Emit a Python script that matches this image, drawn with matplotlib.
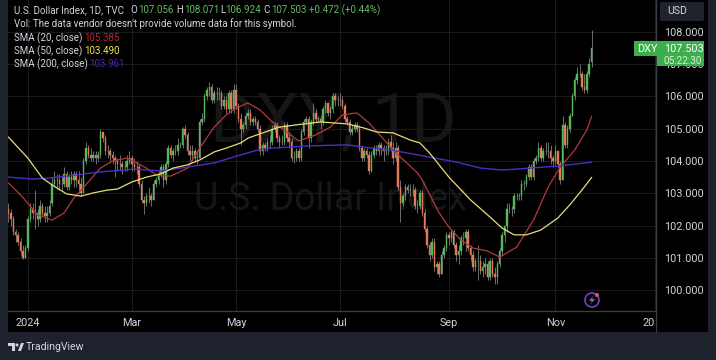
#!/usr/bin/python3
import matplotlib
matplotlib.use("Agg")
import matplotlib.pyplot as plt
from matplotlib.patches import Rectangle, FancyBboxPatch, Circle, Polygon

plt.rcParams['font.family'] = ['Roboto', 'DejaVu Sans']

# daily candles, Dec 2023 to Nov 2024, one row per month
opens = [102.5,102.4,102.2,101.8,101.7,101.5,101.2,101.0,
    101.3,102.2,102.5,102.4,102.4,102.2,102.6,102.4,102.3,102.4,102.7,103.3,103.4,103.4,103.3,103.3,103.6,103.2,103.5,103.4,103.6,103.4,
    103.3,103.0,104.0,104.4,104.2,104.1,104.2,104.1,104.2,104.9,104.7,104.3,104.3,104.2,104.1,104.0,103.9,103.9,103.8,103.8,104.0,
    104.1,103.9,103.8,103.8,103.3,102.8,102.7,102.9,102.9,102.8,103.3,103.4,103.6,103.8,103.4,103.9,104.4,104.2,104.3,104.3,104.5,
    104.5,105.0,104.8,104.3,104.2,104.3,104.1,104.1,105.2,105.3,106.0,106.2,106.3,105.9,106.1,106.1,106.1,105.7,105.9,105.6,106.1,105.6,
    106.2,105.7,105.3,105.0,105.1,105.4,105.5,105.2,105.3,105.2,105.0,104.3,104.5,104.4,104.6,104.6,105.0,105.1,104.7,104.6,104.6,105.1,104.7,
    104.6,104.1,104.1,104.3,104.1,104.9,105.2,105.3,104.7,105.2,105.5,105.3,105.3,105.2,105.6,105.8,105.5,105.6,106.0,105.9,
    105.9,105.9,105.7,105.3,105.2,104.9,105.0,105.1,105.0,104.4,104.1,104.3,104.2,103.7,104.2,104.4,104.3,104.5,104.4,104.3,104.3,104.6,104.4,
    104.1,104.4,103.2,102.7,102.9,103.2,103.1,103.1,103.1,102.6,102.6,103.0,102.4,101.9,101.4,101.1,101.5,100.7,100.8,100.5,101.1,101.3,
    101.7,101.6,101.8,101.4,101.1,101.2,101.6,101.6,101.8,101.3,101.1,100.7,100.9,100.9,100.6,100.7,100.8,100.4,100.9,100.5,100.4,
    100.8,101.2,101.7,102.0,102.5,102.5,102.5,102.9,102.9,102.9,103.3,103.3,103.5,103.8,103.5,104.0,104.1,104.4,104.1,104.3,104.3,104.3,104.1,
    104.0,104.3,103.9,103.4,105.1,104.5,105.0,105.4,106.0,106.5,106.7,106.7,106.3,106.2,106.7,107.056]
highs = [102.7,102.5,102.3,101.9,101.8,101.6,101.4,101.4,
    102.3,102.7,102.7,103.1,102.5,102.8,102.7,102.6,102.6,102.8,103.5,103.7,103.6,103.6,103.5,103.8,103.7,103.6,103.7,103.7,103.7,103.7,
    103.5,104.1,104.6,104.5,104.4,104.3,104.3,104.3,105.0,104.9,104.8,104.5,104.4,104.3,104.2,104.1,104.2,104.0,104.0,104.2,104.3,
    104.2,104.1,104.0,103.9,103.4,102.9,103.0,103.2,103.0,103.4,103.5,103.7,103.9,103.9,104.0,104.5,104.5,104.4,104.5,104.7,104.6,
    105.05,105.1,104.9,104.5,104.5,104.4,104.3,105.3,105.5,106.1,106.3,106.45,106.4,106.2,106.3,106.3,106.2,106.0,106.0,106.2,106.2,106.4,
    106.4,105.8,105.5,105.2,105.5,105.6,105.6,105.4,105.4,105.3,105.1,104.6,104.6,104.7,104.8,105.1,105.2,105.2,104.8,104.8,105.2,105.2,104.9,
    104.7,104.3,104.4,104.4,105.0,105.3,105.4,105.4,105.3,105.8,105.6,105.4,105.4,105.7,105.9,105.8,105.7,106.1,106.1,106.0,
    106.1,106.0,105.8,105.4,105.3,105.1,105.2,105.2,105.1,104.5,104.4,104.4,104.3,104.3,104.5,104.5,104.6,104.6,104.5,104.5,104.7,104.8,104.6,
    104.6,104.5,103.4,103.0,103.3,103.3,103.3,103.3,103.2,102.8,103.1,103.1,102.5,102.0,101.5,101.6,101.6,100.9,100.9,101.2,101.4,101.8,
    101.8,101.9,101.9,101.5,101.4,101.7,101.8,101.9,101.9,101.4,101.2,101.0,101.4,101.1,100.9,101.0,100.9,101.0,101.0,100.7,100.9,
    101.3,101.8,102.0,102.7,102.7,102.6,103.0,103.0,103.0,103.4,103.4,103.6,103.9,103.9,104.1,104.2,104.6,104.5,104.4,104.6,104.6,104.5,104.2,
    104.5,104.3,104.0,105.4,105.2,105.1,105.5,106.1,106.6,106.9,107.0,106.8,106.7,106.8,107.2,108.071]
lows = [102.1,102.0,101.7,101.5,101.4,101.1,100.95,101.0,
    101.2,102.1,102.2,101.9,102.0,102.1,102.3,102.1,102.1,102.3,102.6,103.2,103.1,103.1,103.1,103.2,103.1,103.1,103.3,103.2,103.2,103.0,
    102.9,103.0,103.9,104.1,104.0,104.0,103.9,104.0,104.1,104.6,104.2,104.1,104.0,103.9,103.5,103.7,103.7,103.6,103.7,103.7,103.9,
    103.7,103.7,103.6,103.2,102.7,102.35,102.6,102.7,102.6,102.8,103.2,103.3,103.5,103.2,103.3,103.8,104.1,104.0,104.2,104.2,104.4,
    104.4,104.7,104.2,104.0,104.0,104.0,103.9,104.1,105.1,105.2,105.9,106.0,105.8,105.8,105.9,105.9,105.6,105.6,105.5,105.5,105.5,105.5,
    105.6,105.2,104.5,104.9,105.0,105.3,105.1,105.1,105.1,104.9,104.2,104.2,104.3,104.3,104.4,104.5,104.9,104.6,104.4,104.5,104.5,104.6,104.4,
    104.0,103.95,104.0,104.0,104.0,104.8,105.1,104.4,104.6,105.1,105.2,105.2,105.0,105.1,105.5,105.4,105.3,105.5,105.7,105.7,
    105.7,105.6,105.2,105.1,104.8,104.8,104.9,104.9,104.3,104.0,104.0,104.1,103.6,103.65,104.1,104.2,104.2,104.2,104.0,104.2,104.2,104.3,103.9,
    104.0,103.1,102.1,102.6,102.8,103.0,102.9,102.9,102.5,102.4,102.5,102.3,101.8,101.3,100.9,101.0,100.6,100.5,100.4,100.5,101.0,101.2,
    101.4,101.5,101.3,100.9,100.8,101.1,101.4,101.2,101.2,100.9,100.6,100.6,100.3,100.5,100.4,100.5,100.3,100.3,100.4,100.2,100.2,
    100.7,101.1,101.5,101.8,102.4,102.3,102.4,102.8,102.8,102.8,103.1,103.2,103.4,103.4,103.4,103.9,104.0,104.0,104.0,104.2,104.1,103.9,103.8,
    103.9,103.8,103.3,103.4,104.4,104.4,104.9,105.4,105.9,106.4,106.6,106.2,106.1,106.1,106.6,106.924]
closes = [102.4,102.2,101.8,101.7,101.5,101.2,101.0,101.3,
    102.2,102.5,102.4,102.4,102.2,102.6,102.4,102.3,102.4,102.6,103.3,103.4,103.4,103.3,103.3,103.6,103.2,103.5,103.4,103.6,103.4,103.3,
    103.0,104.0,104.4,104.2,104.1,104.2,104.1,104.2,104.9,104.7,104.3,104.3,104.2,104.1,104.0,103.9,103.9,103.8,103.8,104.0,104.1,
    103.9,103.8,103.8,103.3,102.8,102.7,102.9,102.9,102.8,103.3,103.4,103.6,103.8,103.4,103.9,104.4,104.2,104.3,104.3,104.5,104.5,
    105.0,104.8,104.3,104.2,104.3,104.1,104.1,105.2,105.3,106.0,106.2,106.3,105.9,106.1,106.1,106.1,105.7,105.9,105.6,106.1,105.6,106.2,
    105.7,105.3,105.0,105.1,105.4,105.5,105.2,105.3,105.2,105.0,104.3,104.5,104.4,104.6,104.6,105.0,105.1,104.7,104.6,104.6,105.1,104.7,104.6,
    104.1,104.1,104.3,104.1,104.9,105.2,105.3,104.7,105.2,105.5,105.3,105.3,105.2,105.6,105.8,105.5,105.6,106.0,105.9,105.9,
    105.9,105.7,105.3,105.2,104.9,105.0,105.1,105.0,104.4,104.1,104.3,104.2,103.7,104.2,104.4,104.3,104.5,104.4,104.3,104.3,104.6,104.4,104.1,
    104.4,103.2,102.7,102.9,103.2,103.1,103.1,103.1,102.6,102.6,103.0,102.4,101.9,101.4,101.1,101.5,100.7,100.8,100.5,101.1,101.3,101.7,
    101.6,101.8,101.4,101.1,101.2,101.6,101.6,101.8,101.3,101.1,100.7,100.9,100.9,100.6,100.7,100.8,100.4,100.9,100.5,100.4,100.8,
    101.2,101.7,102.0,102.5,102.5,102.5,102.9,102.9,102.9,103.3,103.3,103.5,103.8,103.5,104.0,104.1,104.4,104.1,104.3,104.3,104.3,104.1,104.0,
    104.3,103.9,103.4,105.1,104.5,105.0,105.4,106.0,106.5,106.7,106.7,106.3,106.2,106.7,107.0,107.503]

# moving averages, bar number then price
sma20_bars = [0,5,12,18,23,27,33,38,43,49,53,57,61,67,74,79,85,90,94,99,104,109,115,120,127,133,138,144,149,156,162,169,171,178,182,187,192,198,203,210,217,223,228,234,239,241]
sma20_vals = [103.32,102.95,102.33,102.17,102.39,102.85,103.35,103.78,104.00,104.09,103.94,103.78,103.57,103.53,103.78,104.40,105.05,105.43,105.64,105.80,105.58,105.21,104.90,104.62,104.81,105.05,105.43,105.49,105.18,104.59,104.12,103.63,103.41,102.39,101.95,101.55,101.30,101.21,101.02,101.33,102.17,103.19,103.81,104.34,104.96,105.385]
sma50_bars = [0,8,14,18,24,30,35,41,45,51,57,63,68,74,79,85,90,96,99,105,112,119,129,140,147,152,159,166,170,174,177,182,191,198,204,209,214,220,227,232,237,241]
sma50_vals = [104.74,104.09,103.47,103.26,102.98,102.91,103.01,103.10,103.13,103.35,103.50,103.60,103.78,103.88,104.03,104.28,104.40,104.56,104.71,104.87,105.05,105.12,105.21,105.15,105.02,104.90,104.87,104.65,104.56,104.25,103.97,103.50,102.79,102.33,101.92,101.71,101.71,101.86,102.23,102.64,103.10,103.49]
sma200_bars = [0,10,17,38,52,63,74,85,96,103,109,125,140,147,158,169,176,185,195,204,216,228,241]
sma200_vals = [103.50,103.44,103.47,103.66,103.75,103.69,103.81,103.94,104.19,104.34,104.40,104.47,104.50,104.43,104.34,104.19,104.09,103.97,103.78,103.72,103.78,103.85,103.961]

month_ticks = [8, 51, 94, 137, 182, 226, 267]
month_labels = ["2024", "Mar", "May", "Jul", "Sep", "Nov", "20"]
price_ticks = [100, 101, 102, 103, 104, 105, 106, 107, 108]

W, H = 716, 360
FRAME = "#1e222d"
TEXT = "#d1d4dc"
GRID = "#1a1a1a"
UP = "#55b85a"
DOWN = "#e37a58"
WICK = "#808080"
BADGE = "#3aaf4c"

fig = plt.figure(figsize=(W / 100, H / 100), dpi=100, facecolor=FRAME)

# black panel behind everything
back = fig.add_axes([0, 0, 1, 1], zorder=0)
back.set_xlim(0, W)
back.set_ylim(H, 0)
back.axis("off")
back.add_patch(Rectangle((8, 0), 700, 332, color="black", lw=0))

# watermark
back.text(333, 123, "DXY, 1D", color="#161616", fontsize=50, ha="center", va="center", zorder=1)
back.text(330, 200, "U.S. Dollar Index", color="#161616", fontsize=27, ha="center", va="center", zorder=1)

# price pane, x is bar number
ax = fig.add_axes([8 / W, (H - 311) / H, 648 / W, 311 / H], zorder=1)
ax.patch.set_alpha(0)
ax.set_xlim(-0.2, 267.6)
ax.set_ylim(99.35, 108.99)

idx = list(range(len(closes)))
ax.vlines(idx, lows, highs, color=WICK, lw=0.6, zorder=2)
colors = [UP if c >= o else DOWN for o, c in zip(opens, closes)]
bottoms = [min(o, c) for o, c in zip(opens, closes)]
heights = [abs(c - o) for o, c in zip(opens, closes)]
ax.bar(idx, heights, 0.62, bottoms, color=colors, edgecolor=colors, lw=0.3, zorder=3)

ax.plot(sma20_bars, sma20_vals, color="#b5383c", lw=0.9, zorder=4)
ax.plot(sma50_bars, sma50_vals, color="#e8dc78", lw=0.9, zorder=5)
ax.plot(sma200_bars, sma200_vals, color="#4a2fc0", lw=1.0, zorder=4)

ax.set_xticks(month_ticks)
ax.set_xticklabels(month_labels)
ax.set_yticks(price_ticks)
ax.set_yticklabels(["%.3f" % p for p in price_ticks])
ax.yaxis.tick_right()
ax.grid(True, color=GRID, lw=0.8, zorder=0)
ax.set_axisbelow(True)
ax.tick_params(axis="both", length=0, labelsize=7.8, labelcolor=TEXT)
ax.tick_params(axis="x", pad=5)
ax.tick_params(axis="y", pad=6)
ax.get_xticklabels()[-1].set_ha("right")
for side in ["top", "left"]:
    ax.spines[side].set_visible(False)
for side in ["right", "bottom"]:
    ax.spines[side].set_color("#3a3d45")
    ax.spines[side].set_linewidth(0.9)

# overlay for the legend, badges and logo, in image pixels
top = fig.add_axes([0, 0, 1, 1], zorder=2)
top.set_xlim(0, W)
top.set_ylim(H, 0)
top.axis("off")
top.patch.set_alpha(0)

top.plot([656, 656], [311, 332], color="#3a3d45", lw=0.9)

FS = 7.0
GREEN = "#62bb62"
head = [(14, "U.S. Dollar Index, 1D, TVC", TEXT), (130, "O", TEXT), (138, "107.056", GREEN),
        (176, "H", TEXT), (184, "108.071", GREEN), (220, "L", TEXT), (225, "106.924", GREEN),
        (263, "C", TEXT), (271, "107.503", GREEN), (309, "+0.472 (+0.44%)", GREEN)]
for x, s, c in head:
    top.text(x, 10, s, color=c, fontsize=FS, va="center")
top.text(14, 24, "Vol: The data vendor doesn't provide volume data for this symbol.", color=TEXT, fontsize=FS, va="center")
top.text(14, 38, "SMA (20, close)", color=TEXT, fontsize=FS, va="center")
top.text(84, 38, "105.385", color="#b8262f", fontsize=FS, va="center")
top.text(14, 51, "SMA (50, close)", color=TEXT, fontsize=FS, va="center")
top.text(84, 51, "103.490", color="#f2e34c", fontsize=FS, va="center")
top.text(14, 64, "SMA (200, close)", color=TEXT, fontsize=FS, va="center")
top.text(89, 64, "103.961", color="#4a24b0", fontsize=FS, va="center")

# currency button
top.add_patch(FancyBboxPatch((660, 2), 44, 19, boxstyle="round,pad=0,rounding_size=2", color=FRAME, lw=0))
top.text(667, 11.5, "USD", color=TEXT, fontsize=7.6, va="center")

# last price badge
top.add_patch(Rectangle((634, 41), 70, 15, color=BADGE, lw=0))
top.add_patch(Rectangle((657, 56), 47, 10, color=BADGE, lw=0))
top.text(637, 48.5, "DXY", color="white", fontsize=7.8, va="center")
top.text(664, 48.5, "107.503", color="white", fontsize=7.8, va="center")
top.text(664, 60.5, "05:22:30", color="#d8f0da", fontsize=7.2, va="center")

# bolt marker
top.add_patch(Circle((592, 300), 7, fill=False, ec="#7b3fc4", lw=1.2))
top.add_patch(Polygon([(594, 295), (589, 301), (592, 301), (590, 305), (595, 299), (592, 299)], color="#8f5fd0", lw=0))
top.add_patch(Circle((597, 295), 2, color="#e0506a", lw=0))

# TradingView mark
top.add_patch(Polygon([(8, 343), (15, 343), (15, 351), (11.5, 351), (11.5, 346), (8, 346)], color=TEXT, lw=0))
top.add_patch(Circle((17, 345), 1.5, color=TEXT, lw=0))
top.add_patch(Polygon([(18, 351), (21, 343), (24, 343), (21, 351)], color=TEXT, lw=0))
top.text(26, 347, "TradingView", color=TEXT, fontsize=7.6, va="center")

plt.savefig("out.png", dpi=100, facecolor=FRAME)
